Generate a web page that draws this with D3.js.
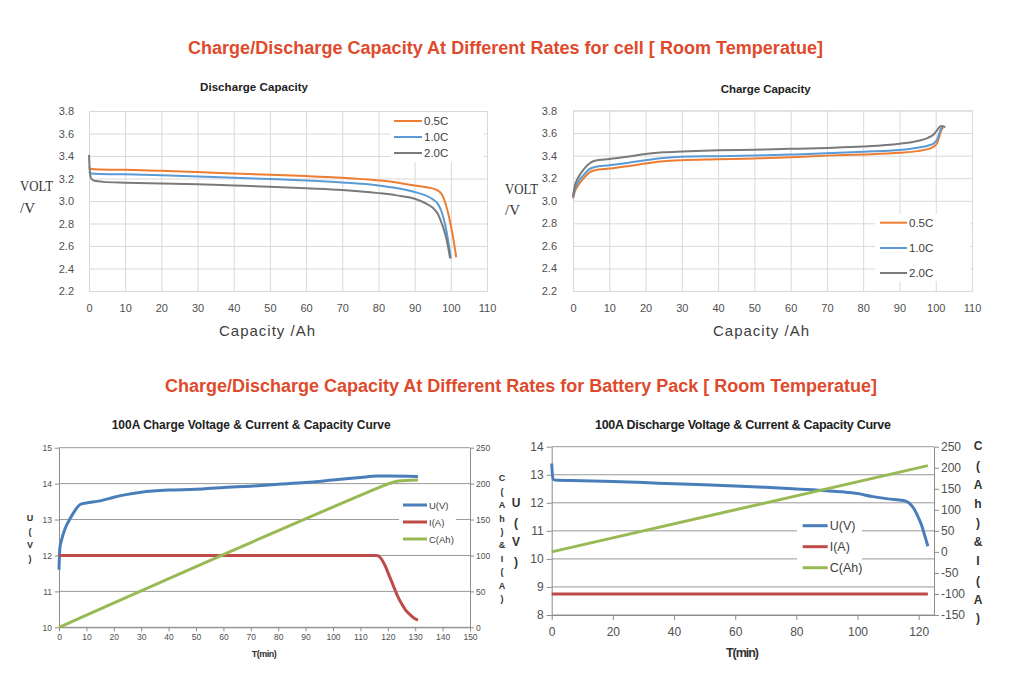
<!DOCTYPE html>
<html><head><meta charset="utf-8">
<script src="https://cdn.jsdelivr.net/npm/d3@7"></script>
<style>body{margin:0;background:#fff}</style>
</head><body>
<script>
// ---------------- DATA ----------------
const capTicks = [0,10,20,30,40,50,60,70,80,90,100,110];
const voltTicks = [2.2,2.4,2.6,2.8,3.0,3.2,3.4,3.6,3.8];
const rateNames = ["0.5C","1.0C","2.0C"];

// Cell discharge (Capacity Ah, Volt)
const dis05Cap = [0,0.5,3,10,20,30,40,50,60,70,80,85,90,94,96,97.5,98.5,99.5,100.5,101.5];
const dis05V   = [3.30,3.285,3.28,3.277,3.268,3.257,3.245,3.233,3.222,3.207,3.183,3.165,3.137,3.118,3.10,3.06,2.98,2.86,2.70,2.50];
const dis10Cap = [0,0.5,3,10,20,30,40,50,60,70,80,85,90,93,95,96.5,97.5,98.5,99.3,100];
const dis10V   = [3.26,3.245,3.24,3.237,3.228,3.218,3.207,3.196,3.183,3.165,3.138,3.115,3.08,3.05,3.015,2.97,2.90,2.78,2.64,2.49];
const dis20Cap = [0,0.2,0.6,1.5,4,10,20,30,40,50,60,70,80,85,90,93,95,96.5,97.5,98.5,99.2,99.8];
const dis20V   = [3.41,3.28,3.20,3.18,3.17,3.163,3.155,3.148,3.138,3.127,3.113,3.098,3.07,3.05,3.02,2.98,2.94,2.88,2.80,2.70,2.60,2.49];

// Cell charge (Capacity Ah, Volt)
const chg05Cap = [0,0.5,1.5,3,4.5,6,10,15,20,25,30,40,50,60,70,80,90,95,98,99.5,100.5,101,101.5,102];
const chg05V   = [3.02,3.08,3.14,3.20,3.25,3.27,3.285,3.305,3.33,3.35,3.36,3.368,3.375,3.385,3.40,3.41,3.425,3.44,3.46,3.48,3.52,3.57,3.62,3.65];
const chg10Cap = [0,0.5,1.5,3,4.5,6,10,15,20,25,30,40,50,60,70,80,90,95,98,99.5,100.5,101,101.5,102];
const chg10V   = [3.03,3.10,3.17,3.23,3.28,3.30,3.315,3.335,3.36,3.38,3.39,3.395,3.402,3.41,3.42,3.435,3.45,3.47,3.49,3.51,3.55,3.60,3.64,3.655];
const chg20Cap = [0,0.5,1.5,3,4.5,6,10,15,20,25,30,40,50,60,70,80,90,95,98,99.5,100.5,101.3,102,102.6];
const chg20V   = [3.04,3.13,3.21,3.28,3.33,3.355,3.37,3.39,3.415,3.43,3.437,3.447,3.453,3.46,3.468,3.48,3.505,3.53,3.56,3.59,3.63,3.66,3.66,3.65];

// Pack 100A charge
const packSeriesNames = ["U(V)","I(A)","C(Ah)"];
const chgTimeTicks = [0,10,20,30,40,50,60,70,80,90,100,110,120,130,140,150];
const chgUTicks = [10,11,12,13,14,15];
const chgRightTicks = [0,50,100,150,200,250];
const packChgUTime = [0,0.3,1,2,3,4,5,6,7,8,10,15,20,25,30,40,50,60,70,80,90,100,110,116,120,131];
const packChgU     = [11.6,12.2,12.45,12.7,12.88,13.02,13.15,13.27,13.37,13.43,13.46,13.52,13.62,13.7,13.76,13.82,13.84,13.89,13.93,13.98,14.03,14.1,14.17,14.21,14.21,14.2];
const packChgITime = [0,116,117.5,119,120.5,122,123.5,125,126.5,128,129.5,131];
const packChgI     = [100,100,96,86,72,58,44,33,24,18,13,10];
const packChgCTime = [0,116,118,120,122,124,127,131];
const packChgC     = [0,193.3,196.5,199.5,202,203.5,204.5,205];

// Pack 100A discharge
const disTimeTicks = [0,20,40,60,80,100,120];
const disUTicks = [8,9,10,11,12,13,14];
const disRightTicks = [-150,-100,-50,0,50,100,150,200,250];
const packDisUTime = [0,0.4,2,10,20,30,40,50,60,70,80,90,95,100,105,110,115,117,118.5,120,121,122,123];
const packDisU     = [13.4,12.84,12.8,12.79,12.76,12.72,12.68,12.64,12.6,12.55,12.49,12.43,12.39,12.33,12.22,12.14,12.08,11.98,11.78,11.45,11.18,10.82,10.45];
const packDisITime = [0,123];
const packDisI     = [-100,-100];
const packDisCTime = [0,123];
const packDisC     = [0,205];

// ---------------- DRAW ----------------
const svg = d3.select('body').append('svg').attr('width',1010).attr('height',683)
  .style('font-family','"Liberation Sans", Arial, sans-serif');
svg.append('rect').attr('width',1010).attr('height',683).attr('fill','#fff');

function label(x,y,text,o={}){
  const t = svg.append('text').attr('x',x).attr('y',y).text(text)
    .attr('font-size',o.size||11).attr('font-weight',o.weight||'normal')
    .attr('fill',o.fill||'#404040').attr('text-anchor',o.anchor||'start');
  if(o.family) t.attr('font-family',o.family);
  if(o.len){ t.attr('textLength',o.len).attr('lengthAdjust',o.adjust||'spacing'); }
  if(o.baseline) t.attr('dominant-baseline',o.baseline);
  return t;
}

// main titles
const red = '#e04a2c';
const narrow = '"Liberation Sans Narrow", "Liberation Sans", Arial, sans-serif';
label(188,53.5,'Charge/Discharge Capacity At Different Rates for cell [ Room Temperatue]',{size:18,weight:'bold',fill:red,len:635,family:narrow});
label(165,392,'Charge/Discharge Capacity At Different Rates for Battery Pack [ Room Temperatue]',{size:18,weight:'bold',fill:red,len:712,family:narrow});

const cellColors = ['#ed7d31','#5b9bd5','#7a7a7a'];

function cellChart(o){
  const x = d3.scaleLinear().domain([0,110]).range([o.x0,o.x1]);
  const y = d3.scaleLinear().domain([2.2,3.8]).range([o.y1,o.y0]);
  const g = svg.append('g');
  const grid = '#d9d9d9';
  g.append('g').attr('transform',`translate(0,${o.y1})`)
    .call(d3.axisBottom(x).tickValues(capTicks).tickSize(-(o.y1-o.y0)).tickPadding(13).tickFormat(d3.format('d')))
    .call(a=>{a.attr('font-size',11).attr('font-family','"Liberation Sans", Arial, sans-serif');
      a.select('.domain').attr('stroke',grid); a.selectAll('line').attr('stroke',grid); a.selectAll('text').attr('fill','#505050');});
  g.append('g').attr('transform',`translate(${o.x0},0)`)
    .call(d3.axisLeft(y).tickValues(voltTicks).tickSize(-(o.x1-o.x0)).tickPadding(o.yPad).tickFormat(d3.format('.1f')))
    .call(a=>{a.attr('font-size',11).attr('font-family','"Liberation Sans", Arial, sans-serif');
      a.select('.domain').attr('stroke',grid); a.selectAll('line').attr('stroke',grid); a.selectAll('text').attr('fill','#505050');});
  const line = d3.line().x(d=>x(d[0])).y(d=>y(d[1])).curve(d3.curveMonotoneX);
  o.series.forEach((s,i)=>{
    g.append('path').datum(d3.zip(s[0],s[1])).attr('d',line)
      .attr('fill','none').attr('stroke',cellColors[i]).attr('stroke-width',2).attr('stroke-linejoin','round');
  });
  // legend
  g.append('rect').attr('x',o.lg.bx).attr('y',o.lg.by).attr('width',o.lg.bw).attr('height',o.lg.bh).attr('fill','#fff');
  rateNames.forEach((n,i)=>{
    const ly = o.lg.ys[i];
    g.append('line').attr('x1',o.lg.x1).attr('x2',o.lg.x2).attr('y1',ly).attr('y2',ly).attr('stroke',cellColors[i]).attr('stroke-width',2);
    g.append('text').attr('x',o.lg.x2+2).attr('y',ly).attr('dominant-baseline','central').attr('font-size',11.5).attr('fill','#404040').text(n);
  });
}

cellChart({x0:89,x1:487,y0:111,y1:291,yPad:15,
  series:[[dis05Cap,dis05V],[dis10Cap,dis10V],[dis20Cap,dis20V]],
  lg:{bx:390,by:112,bw:94,bh:50,x1:394,x2:422,ys:[121,137,153]}});
cellChart({x0:573,x1:972,y0:110.5,y1:291,yPad:16,
  series:[[chg05Cap,chg05V],[chg10Cap,chg10V],[chg20Cap,chg20V]],
  lg:{bx:875,by:214,bw:95,bh:67,x1:880,x2:907,ys:[222.7,248,273]}});

label(200,91,'Discharge Capacity',{size:11.5,weight:'bold',fill:'#222',len:108});
label(720.7,92.5,'Charge Capacity',{size:11.5,weight:'bold',fill:'#222',len:90});
label(219,336,'Capacity /Ah',{size:15,fill:'#404040',len:96});
label(713,336,'Capacity /Ah',{size:15,fill:'#404040',len:96});
const serif = '"Liberation Serif", "DejaVu Serif", serif';
label(20,191,'VOLT',{size:15,family:serif,fill:'#333',len:33,adjust:'spacingAndGlyphs'});
label(20,212.5,'/V',{size:15,family:serif,fill:'#333',len:15,adjust:'spacingAndGlyphs'});
label(505,194,'VOLT',{size:15,family:serif,fill:'#333',len:33,adjust:'spacingAndGlyphs'});
label(505,215,'/V',{size:15,family:serif,fill:'#333',len:15,adjust:'spacingAndGlyphs'});

// ---- pack charts ----
const packColors = ['#4a7ebb','#be4b48','#98b954'];
function packChart(o){
  const x = d3.scaleLinear().domain(o.xDom).range([o.x0,o.x1]);
  const yL = d3.scaleLinear().domain(o.yLDom).range([o.y1,o.y0]);
  const yR = d3.scaleLinear().domain(o.yRDom).range([o.y1,o.y0]);
  const g = svg.append('g');
  const gridC = '#999999', axC = '#8c8c8c';
  o.yLTicks.forEach(t=>{
    g.append('line').attr('x1',o.x0).attr('x2',o.x1).attr('y1',yL(t)).attr('y2',yL(t)).attr('stroke',gridC).attr('stroke-width',1);
  });
  const style = (a,fs)=>{a.attr('font-size',fs).attr('font-family','"Liberation Sans", Arial, sans-serif');
    a.select('.domain').attr('stroke',axC); a.selectAll('line').attr('stroke',axC); a.selectAll('text').attr('fill','#505050');};
  g.append('g').attr('transform',`translate(${o.x0},0)`)
    .call(d3.axisLeft(yL).tickValues(o.yLTicks).tickSize(o.tick).tickSizeOuter(0).tickPadding(o.lPad).tickFormat(d3.format('d')))
    .call(a=>style(a,o.fs));
  g.append('g').attr('transform',`translate(${o.x1},0)`)
    .call(d3.axisRight(yR).tickValues(o.yRTicks).tickSize(o.tick).tickSizeOuter(0).tickPadding(o.rPad).tickFormat(d=>d<0?'-'+Math.abs(d):d))
    .call(a=>style(a,o.fs));
  g.append('g').attr('transform',`translate(0,${o.y1})`)
    .call(d3.axisBottom(x).tickValues(o.xTicks).tickSize(o.tick).tickSizeOuter(0).tickPadding(o.bPad).tickFormat(d3.format('d')))
    .call(a=>style(a,o.fs));
  const lineL = d3.line().x(d=>x(d[0])).y(d=>yL(d[1])).curve(d3.curveMonotoneX);
  const lineR = d3.line().x(d=>x(d[0])).y(d=>yR(d[1])).curve(d3.curveMonotoneX);
  g.append('path').datum(d3.zip(o.u[0],o.u[1])).attr('d',lineL).attr('fill','none').attr('stroke',packColors[0]).attr('stroke-width',3).attr('stroke-linejoin','round');
  g.append('path').datum(d3.zip(o.i[0],o.i[1])).attr('d',lineR).attr('fill','none').attr('stroke',packColors[1]).attr('stroke-width',3).attr('stroke-linejoin','round');
  g.append('path').datum(d3.zip(o.c[0],o.c[1])).attr('d',lineR).attr('fill','none').attr('stroke',packColors[2]).attr('stroke-width',3).attr('stroke-linejoin','round');
  // legend
  g.append('rect').attr('x',o.lg.bx).attr('y',o.lg.by).attr('width',o.lg.bw).attr('height',o.lg.bh).attr('fill','#fff');
  packSeriesNames.forEach((n,k)=>{
    const ly = o.lg.ys[k];
    g.append('line').attr('x1',o.lg.x1).attr('x2',o.lg.x2).attr('y1',ly).attr('y2',ly).attr('stroke',packColors[k]).attr('stroke-width',3);
    g.append('text').attr('x',o.lg.x2+2).attr('y',ly).attr('dominant-baseline','central').attr('font-size',o.lg.fs).attr('fill','#404040').text(n);
  });
}

packChart({xDom:[0,150],yLDom:[10,15],yRDom:[0,250],x0:59,x1:470,y0:447.7,y1:627.3,
  xTicks:chgTimeTicks,yLTicks:chgUTicks,yRTicks:chgRightTicks,tick:4,lPad:3,rPad:2,bPad:3,fs:8.5,
  u:[packChgUTime,packChgU],i:[packChgITime,packChgI],c:[packChgCTime,packChgC],
  lg:{bx:399,by:494,bw:57,bh:54,x1:403,x2:427,ys:[505,522,539],fs:9.5}});
packChart({xDom:[0,125],yLDom:[8,14],yRDom:[-150,250],x0:551.7,x1:934,y0:446.7,y1:615,
  xTicks:disTimeTicks,yLTicks:disUTicks,yRTicks:disRightTicks,tick:5,lPad:3,rPad:2,bPad:7,fs:12,
  u:[packDisUTime,packDisU],i:[packDisITime,packDisI],c:[packDisCTime,packDisC],
  lg:{bx:797,by:511,bw:65,bh:71,x1:802.7,x2:827.7,ys:[525.7,546.7,567.7],fs:12.5}});

label(111.7,429,'100A Charge Voltage & Current & Capacity Curve',{size:12,weight:'bold',fill:'#222',len:279});
label(595,429.3,'100A Discharge Voltage & Current & Capacity Curve',{size:12.5,weight:'bold',fill:'#222',len:296});
label(251.7,656.5,'T(min)',{size:9,weight:'bold',fill:'#333',len:25});
label(726,657,'T(min)',{size:12.5,weight:'bold',fill:'#333',len:33});

const uLetters = ['U','(','V',')'];
const rLetters = ['C','(','A','h',')','&','I','(','A',')'];
const blU = [518,531.5,545,558.5];
const blR = [478,491.5,505,518.5,532,545,558.5,572,585.5,599];
const brU = [503,523,542,562];
const brR = [446,465.5,484.5,503.5,523,542,561,580.5,599.5,618];
uLetters.forEach((c,k)=>label(30,blU[k],c,{size:9,weight:'bold',fill:'#333',anchor:'middle',baseline:'central'}));
rLetters.forEach((c,k)=>label(502,blR[k],c,{size:9,weight:'bold',fill:'#333',anchor:'middle',baseline:'central'}));
uLetters.forEach((c,k)=>label(516,brU[k],c,{size:12,weight:'bold',fill:'#333',anchor:'middle',baseline:'central'}));
rLetters.forEach((c,k)=>label(978,brR[k],c,{size:12,weight:'bold',fill:'#333',anchor:'middle',baseline:'central'}));
</script>
</body></html>
